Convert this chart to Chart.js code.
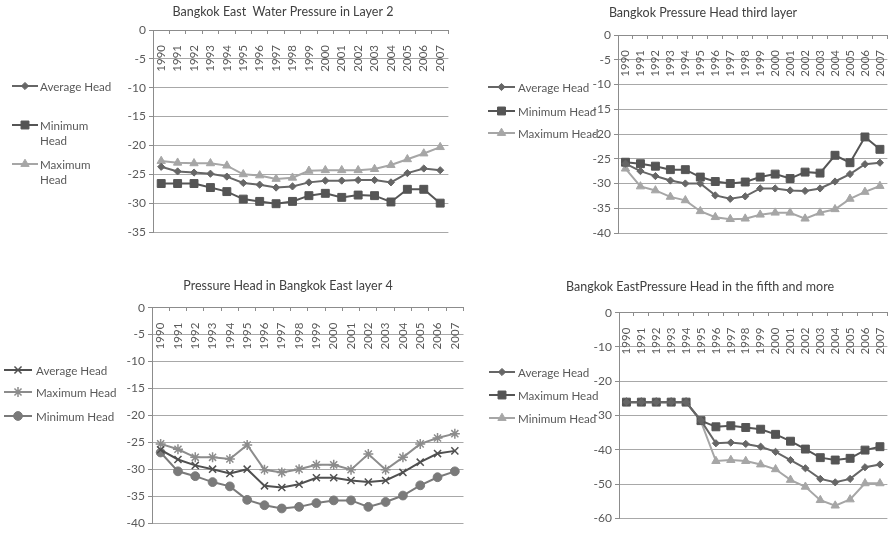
<!DOCTYPE html>
<html><head><meta charset="utf-8">
<script src="https://cdn.jsdelivr.net/npm/chart.js@4.4.1/dist/chart.umd.min.js"></script>
<style>
html,body{margin:0;padding:0;background:#fff;}
body{width:894px;height:534px;position:relative;overflow:hidden;font-family:Lato,'Liberation Sans',sans-serif;}
canvas.ch{position:absolute;}
.lg{position:absolute;font-size:11.6px;color:#595959;line-height:15px;white-space:nowrap;}
.lg canvas{position:absolute;left:-3px;top:0;}
.lg span{position:absolute;top:0;}
</style></head><body>
<canvas class="ch" id="c1" width="455" height="262" style="left:0;top:0;width:455px;height:262px"></canvas>
<canvas class="ch" id="c2" width="439" height="262" style="left:455px;top:0;width:439px;height:262px"></canvas>
<canvas class="ch" id="c3" width="470" height="264" style="left:0;top:270px;width:470px;height:264px"></canvas>
<canvas class="ch" id="c4" width="422" height="264" style="left:472px;top:270px;width:422px;height:264px"></canvas>
<script>
// ---------- data ----------
const years = ['1990','1991','1992','1993','1994','1995','1996','1997','1998','1999','2000','2001','2002','2003','2004','2005','2006','2007'];

// Layer 2
const layer2Average = [-23.7,-24.5,-24.7,-24.9,-25.4,-26.5,-26.8,-27.3,-27.1,-26.4,-26.1,-26.1,-26.0,-26.0,-26.4,-24.8,-24.0,-24.3];
const layer2Minimum = [-26.6,-26.6,-26.6,-27.3,-28.0,-29.3,-29.7,-30.1,-29.7,-28.7,-28.3,-29.0,-28.6,-28.7,-29.8,-27.6,-27.6,-30.0];
const layer2Maximum = [-22.7,-23.0,-23.1,-23.1,-23.5,-25.0,-25.2,-25.8,-25.6,-24.4,-24.3,-24.3,-24.3,-24.1,-23.4,-22.4,-21.4,-20.3];

// Layer 3
const layer3Average = [-26.0,-27.5,-28.5,-29.4,-30.0,-30.0,-32.4,-33.1,-32.6,-31.0,-31.0,-31.4,-31.5,-31.0,-29.6,-28.1,-26.1,-25.8];
const layer3Minimum = [-25.7,-26.0,-26.5,-27.2,-27.2,-28.7,-29.6,-30.0,-29.7,-28.7,-28.1,-29.0,-27.7,-27.9,-24.3,-25.8,-20.6,-23.1];
const layer3Maximum = [-27.0,-30.6,-31.4,-32.7,-33.4,-35.6,-36.8,-37.2,-37.1,-36.3,-35.9,-35.9,-37.1,-35.9,-35.2,-33.1,-31.7,-30.5];

// Layer 4
const layer4Average = [-26.4,-28.2,-29.3,-30.0,-30.8,-30.0,-33.1,-33.4,-32.8,-31.6,-31.6,-32.1,-32.4,-32.1,-30.6,-28.7,-27.1,-26.6];
const layer4Maximum = [-25.3,-26.3,-27.8,-27.8,-28.1,-25.5,-30.1,-30.6,-30.0,-29.2,-29.2,-30.1,-27.2,-30.1,-27.8,-25.3,-24.2,-23.4];
const layer4Minimum = [-26.9,-30.4,-31.3,-32.4,-33.2,-35.7,-36.7,-37.3,-37.0,-36.3,-35.8,-35.8,-37.0,-36.1,-34.9,-33.0,-31.5,-30.4];

// Layer 5 and more
const layer5Average = [-26.1,-26.1,-26.1,-26.1,-26.1,-31.5,-38.1,-37.9,-38.3,-39.1,-40.6,-43.0,-45.4,-48.5,-49.5,-48.5,-45.1,-44.3];
const layer5Maximum = [-26.1,-26.1,-26.1,-26.1,-26.1,-31.5,-33.3,-33.0,-33.5,-34.0,-35.5,-37.5,-39.8,-42.3,-43.0,-42.5,-40.1,-39.1];
const layer5Minimum = [-26.1,-26.1,-26.1,-26.1,-26.1,-31.8,-43.3,-43.0,-43.3,-44.3,-45.7,-48.8,-50.8,-54.7,-56.3,-54.5,-49.8,-49.8];

// titles
const titles = [
  'Bangkok East  Water Pressure in Layer 2',
  'Bangkok Pressure Head third layer',
  'Pressure Head in Bangkok East layer 4',
  'Bangkok EastPressure Head in the fifth and more'
];

// ---------- styling ----------
const TXT = '#595959';
const FONT = "Lato, 'Liberation Sans', sans-serif";

function ds(label, data, color, style, radius, bw) {
  const stroke = (style === 'crossRot' || style === 'star');
  return {
    label, data,
    borderColor: color, backgroundColor: color,
    borderWidth: 2,
    pointStyle: style, pointRadius: radius,
    pointBackgroundColor: color, pointBorderColor: color,
    pointBorderWidth: bw !== undefined ? bw : (stroke ? 1.5 : 1),
    tension: 0, fill: false
  };
}

function makeChart(id, g) {
  return new Chart(document.getElementById(id), {
    type: 'line',
    data: { labels: years, datasets: g.datasets },
    options: {
      responsive: false, animation: false, devicePixelRatio: 1,
      layout: { padding: { left: g.padL, right: g.padR, top: 0, bottom: g.padB } },
      plugins: {
        legend: { display: false }, tooltip: { enabled: false },
        title: {
          display: true, text: g.title, color: '#404040',
          font: { family: FONT, size: 12.5, weight: 'normal', lineHeight: 1.2 },
          padding: { top: g.tTop - 0.9, bottom: g.tBot - 0.9 }
        }
      },
      scales: {
        y: {
          min: g.yMin, max: 0,
          ticks: { stepSize: g.yStep, color: TXT, font: { family: FONT, size: 12 }, padding: 3 },
          grid: { color: '#a8a8a8', lineWidth: 1, tickLength: 4, tickColor: '#8c8c8c' },
          border: { display: true, color: '#8c8c8c' },
          afterFit(s) { s.width = g.yW; s.paddingTop = 0; s.paddingBottom = 0; }
        },
        x: {
          type: 'category', position: { y: 0 }, offset: true,
          ticks: { minRotation: 90, maxRotation: 90, autoSkip: false, color: TXT, font: { family: FONT, size: 11.5 } },
          grid: { display: true, drawOnChartArea: false, tickLength: 12, tickColor: 'rgba(0,0,0,0)' },
          border: { display: false },
          afterFit(s) { s.paddingLeft = 0; s.paddingRight = 0; s.paddingTop = 0; s.paddingBottom = 0; }
        },
        x2: {
          type: 'category', labels: years, position: { y: 0 }, offset: true,
          ticks: { display: false },
          grid: { display: true, drawOnChartArea: false, offset: true, tickLength: 3, color: '#8c8c8c' },
          border: { display: true, color: '#8c8c8c' },
          afterFit(s) { s.paddingLeft = 0; s.paddingRight = 0; s.paddingTop = 0; s.paddingBottom = 0; }
        }
      }
    }
  });
}

function legend(chart, x0, x1, xText, ys, wraps) {
  chart.data.datasets.forEach((d, i) => {
    const item = document.createElement('div');
    item.className = 'lg';
    item.style.left = x0 + 'px';
    item.style.top = (ys[i] - 8) + 'px';
    const w = x1 - x0;
    const cv = document.createElement('canvas');
    cv.width = w + 6; cv.height = 16;
    const ctx = cv.getContext('2d');
    ctx.strokeStyle = d.borderColor; ctx.lineWidth = d.borderWidth;
    ctx.beginPath(); ctx.moveTo(3, 8); ctx.lineTo(3 + w, 8); ctx.stroke();
    ctx.fillStyle = d.pointBackgroundColor; ctx.strokeStyle = d.pointBorderColor; ctx.lineWidth = d.pointBorderWidth;
    if (Chart.helpers && Chart.helpers.drawPoint) {
      Chart.helpers.drawPoint(ctx, { pointStyle: d.pointStyle, radius: d.pointRadius, borderWidth: d.pointBorderWidth, rotation: 0 }, 3 + w / 2, 8);
    }
    item.appendChild(cv);
    const sp = document.createElement('span');
    sp.style.left = (xText - x0) + 'px';
    sp.style.lineHeight = '15px';
    sp.style.top = '0.5px';
    if (wraps && wraps[i]) {
      const parts = d.label.split(' ');
      sp.appendChild(document.createTextNode(parts[0]));
      sp.appendChild(document.createElement('br'));
      sp.appendChild(document.createTextNode(parts.slice(1).join(' ')));
    } else {
      sp.textContent = d.label;
    }
    item.appendChild(sp);
    document.body.appendChild(item);
  });
}

// ---------- charts ----------
const c1 = makeChart('c1', {
  title: titles[0], padL: 116, padR: 5, padB: 30, yW: 37, tTop: 5.4, tBot: 11.4, yMin: -35, yStep: 5,
  datasets: [
    ds('Average Head', layer2Average, '#666666', 'rectRot', 3.6),
    ds('Minimum Head', layer2Minimum, '#555555', 'rect', 5.6),
    ds('Maximum Head', layer2Maximum, '#a6a6a6', 'triangle', 4.8)
  ]
});
const c2 = makeChart('c2', {
  title: titles[1], padL: 60, padR: 3, padB: 29, yW: 103, tTop: 6.4, tBot: 15.4, yMin: -40, yStep: 5,
  datasets: [
    ds('Average Head', layer3Average, '#666666', 'rectRot', 3.6),
    ds('Minimum Head', layer3Minimum, '#555555', 'rect', 5.6),
    ds('Maximum Head', layer3Maximum, '#a6a6a6', 'triangle', 4.8)
  ]
});
const c3 = makeChart('c3', {
  title: titles[2], padL: 108, padR: 2, padB: 11, yW: 44, tTop: 9.4, tBot: 15.1, yMin: -40, yStep: 5,
  datasets: [
    ds('Average Head', layer4Average, '#505050', 'crossRot', 5),
    ds('Maximum Head', layer4Maximum, '#8c8c8c', 'star', 5),
    ds('Minimum Head', layer4Minimum, '#7a7a7a', 'circle', 4.4)
  ]
});
const c4 = makeChart('c4', {
  title: titles[3], padL: 36, padR: 2, padB: 15.7, yW: 111, tTop: 10.4, tBot: 19.1, yMin: -60, yStep: 10,
  datasets: [
    ds('Average Head', layer5Average, '#666666', 'rectRot', 3.6),
    ds('Maximum Head', layer5Maximum, '#555555', 'rect', 5.6),
    ds('Minimum Head', layer5Minimum, '#a6a6a6', 'triangle', 4.8)
  ]
});

legend(c1, 12, 38, 40, [86, 125, 164], [false, true, true]);
legend(c2, 488, 515, 518, [87, 111, 133]);
legend(c3, 4, 32, 36, [370, 392, 416]);
legend(c4, 489, 515, 518, [372, 395, 418]);
</script>
</body></html>
